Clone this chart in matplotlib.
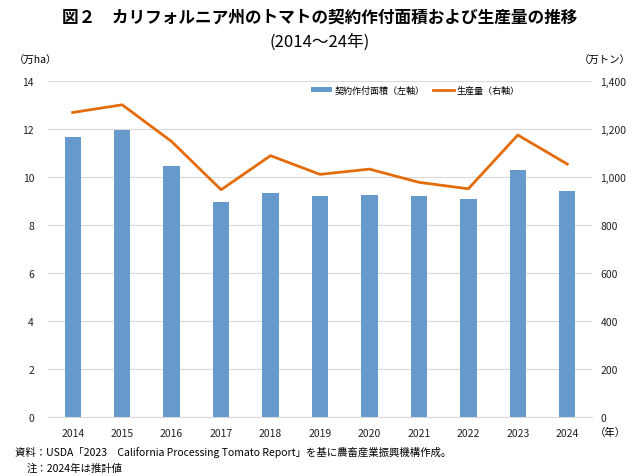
import matplotlib
matplotlib.use("Agg")
import matplotlib.pyplot as plt
import numpy as np

plt.rcParams['font.family'] = ['Noto Sans CJK JP', 'DejaVu Sans']

years = ['2014', '2015', '2016', '2017', '2018', '2019', '2020', '2021', '2022', '2023', '2024']
area = [11.68, 11.96, 10.47, 8.96, 9.32, 9.20, 9.24, 9.20, 9.08, 10.31, 9.40]       # 万ha
production = [1269, 1301, 1148, 947, 1089, 1011, 1033, 978, 951, 1175, 1054]        # 万トン

bar_color = '#6699CC'
line_color = '#E46C0A'

fig = plt.figure(figsize=[6.4, 4.77], dpi=100)
ax = fig.add_axes([0.075, 0.1237, 0.85, 0.7043])
ax2 = ax.twinx()

x = np.arange(len(years))
b = ax.bar(x, area, width=0.33, color=bar_color, zorder=2, label='契約作付面積（左軸）')
l, = ax2.plot(x, production, color=line_color, lw=2, zorder=3, label='生産量（右軸）')

ax.set_xlim(-0.5, len(years) - 0.5)
ax.set_ylim(0, 14)
ax.set_yticks(np.arange(0, 15, 2))
ax2.set_ylim(0, 1400)
ax2.set_yticks(np.arange(0, 1401, 200))
ax2.set_yticklabels([f'{v:,}' for v in range(0, 1401, 200)])
ax.set_xticks(x)
ax.set_xticklabels(years)

ax.grid(axis='y', color='#D9D9D9', lw=0.8, zorder=0)
for a in (ax, ax2):
    for s in a.spines.values():
        s.set_visible(False)
    a.tick_params(length=0, labelsize=7.5, colors='#222222')
ax.spines['bottom'].set_visible(True)
ax.spines['bottom'].set_color('#D9D9D9')
ax.tick_params(axis='y', pad=10)
ax.tick_params(axis='x', pad=8)
ax2.tick_params(axis='y', pad=6)

leg = ax.legend(handles=[b, l], loc='center right', bbox_to_anchor=(0.878, 0.973), ncol=2,
                frameon=False, fontsize=6.5, handlelength=2.3, handleheight=0.45,
                columnspacing=1.0, handletextpad=0.25, borderpad=0.2)

fig.text(0.5, 0.962, '図２　カリフォルニア州のトマトの契約作付面積および生産量の推移',
         ha='center', va='center', fontsize=12, fontweight='bold')
fig.text(0.5, 0.912, '(2014〜24年)', ha='center', va='center', fontsize=12)
fig.text(0.022, 0.873, '（万ha）', ha='left', va='center', fontsize=7.5)
fig.text(0.985, 0.873, '（万トン）', ha='right', va='center', fontsize=7.5)
fig.text(0.93, 0.092, '（年）', ha='left', va='center', fontsize=7.5)
fig.text(0.023, 0.052, '資料：USDA「2023　California Processing Tomato Report」を基に農畜産業振興機構作成。',
         ha='left', va='center', fontsize=7.5)
fig.text(0.042, 0.018, '注：2024年は推計値', ha='left', va='center', fontsize=7.5)

fig.savefig('out.png', dpi=100)
